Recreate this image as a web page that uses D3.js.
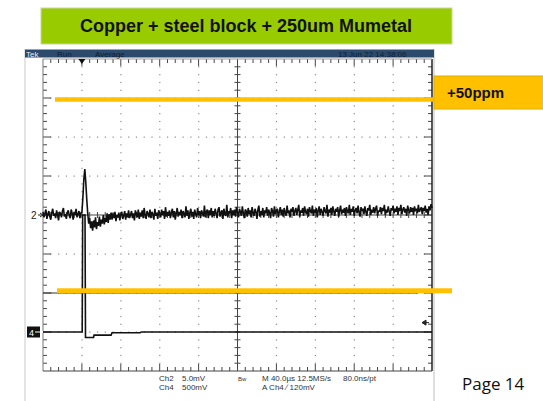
<!DOCTYPE html>
<html><head><meta charset="utf-8">
<script src="https://cdn.jsdelivr.net/npm/d3@7"></script>
<style>body{margin:0;background:#fff}svg{display:block}</style>
</head><body>
<svg id="c" width="543" height="401"></svg>
<script>
// ---------- data ----------
const titleText = "Copper + steel block + 250um Mumetal";
const headerLabels = ["Tek", "Run", "Average", "13 Jun 22 14:38:06"];
const annotationLabel = "+50ppm";
const pageLabel = "Page 14";
const readoutRow1 = ["Ch2", "5.0mV", "Bw", "M 40.0\u00b5s 12.5MS/s", "80.0ns/pt"];
const readoutRow2 = ["Ch4", "500mV", "", "A  Ch4  \u2215  120mV", ""];
// time axis: 40 us/div, trigger 1 div from left
const timeDomain = [-40, 360];
const ch2VoltsPerDiv = 5;     // mV/div
const ch4VoltsPerDiv = 500;   // mV/div
const ch2OffsetDiv = 0;
const ch4OffsetDiv = -3;
const ch4TriggerLevel = 120;  // mV
// annotation lines (divisions)
const upperRefDiv = 2.96;
const lowerRefDiv = -1.94;
const cursorDiv = -2.0;
// Ch2 (mV) samples every 1 us from -40 us
const ch2Pre = [
0.4,-0.3,0.2,0.7,-0.5,0.1,0.5,-0.2,-0.6,0.3,
0.8,-0.1,0.2,-0.4,0.6,0.0,-0.7,0.4,0.2,-0.3,
0.5,0.9,-0.2,0.1,-0.5,0.3,0.6,-0.1,-0.4,0.7,
0.2,-0.6,0.4,0.0,0.8,-0.3,0.1,0.5,-0.4,0.3];
// Ch2 event [t us, mV]
const ch2Event = [[0,0.3],[1,2.2],[2,4.6],[3,5.9],[4,4.2],[5,2.0],[6,0.2],[7,-1.1],[8,-0.4],[9,-1.7],[10,-0.8],[11,-2.0],[12,-0.7],[13,-1.6],[14,-0.3],[15,-1.8],[16,-0.9],[17,-1.4],[18,-0.2],[19,-1.5],[20,-0.6],[21,-1.1],[22,0.0],[23,-1.2],[24,-0.4],[25,-0.9],[26,0.2],[27,-1.0],[28,0.1],[29,-0.6],[30,0.3]];
// Ch2 (mV) samples every 1 us from 31 us
const ch2Post = [
-0.6,0.2,-0.4,0.4,-0.8,0.0,-0.3,0.3,-0.7,0.1,
0.4,-0.5,-0.1,0.5,-0.6,0.2,-0.3,0.6,-0.4,0.0,
0.5,-0.4,0.2,-0.7,0.6,0.1,-0.3,0.7,-0.5,0.3,
-0.2,0.6,-0.4,0.9,0.0,-0.5,0.5,0.2,-0.3,0.7,
-0.4,0.4,0.1,-0.6,0.8,-0.1,0.3,-0.5,0.6,0.2,
-0.3,0.7,0.0,0.5,-0.5,1.0,-0.2,0.4,-0.1,0.6,
-0.4,0.3,0.8,-0.3,0.5,-0.6,0.2,0.9,-0.2,0.4,
0.0,0.7,-0.4,0.5,0.2,-0.3,1.1,-0.1,0.6,-0.5,
0.3,0.8,-0.2,0.4,-0.5,0.7,0.1,-0.3,0.9,0.0,
0.5,-0.4,0.6,0.2,-0.2,1.2,-0.3,0.4,0.7,-0.4,
0.6,0.0,0.9,-0.3,0.5,-0.1,0.8,0.2,-0.4,0.7,
1.0,-0.2,0.3,0.6,-0.5,0.8,0.1,-0.1,1.3,-0.3,
0.5,0.2,0.9,-0.4,0.6,0.0,0.7,-0.2,1.0,0.3,
-0.3,0.8,0.4,-0.1,1.1,0.2,-0.4,0.7,0.5,-0.2,
0.9,0.1,0.6,-0.3,1.0,0.3,-0.1,0.8,0.4,-0.5,
0.7,1.2,-0.2,0.5,0.0,0.9,-0.3,0.6,0.2,1.0,
-0.1,0.7,0.3,-0.4,0.9,0.5,-0.2,1.1,0.1,0.6,
0.8,-0.3,0.4,1.0,0.0,0.7,-0.2,0.9,0.3,-0.1,
1.2,0.2,0.6,-0.3,0.8,0.4,1.0,-0.1,0.5,0.9,
0.0,0.7,1.3,-0.2,0.6,0.3,0.9,-0.1,1.1,0.4,
0.1,0.8,-0.2,1.0,0.5,0.2,1.2,-0.1,0.7,0.3,
0.9,-0.3,0.6,1.1,0.0,0.8,0.4,-0.1,1.0,0.5,
0.2,1.3,-0.2,0.7,0.3,0.9,0.0,1.1,0.5,-0.1,
0.8,0.4,1.0,-0.2,0.6,1.2,0.1,0.7,0.3,0.9,
-0.1,1.0,0.5,0.2,1.3,0.0,0.8,0.4,1.1,-0.1,
0.6,0.9,0.2,1.2,0.3,-0.2,1.0,0.5,0.8,0.1,
1.1,0.4,-0.1,0.9,0.6,1.3,0.0,0.7,0.3,1.0,
0.2,0.8,1.2,-0.1,0.6,0.4,1.0,0.1,0.9,0.5,
1.3,0.0,0.7,0.3,1.1,0.5,-0.1,0.9,0.6,1.2,
0.2,0.8,0.4,1.1,0.0,0.9,0.5,1.3,0.1,0.7,
1.0,0.3,0.8,-0.1,1.2,0.6,0.2,1.0,0.4,0.9,
0.0,1.1,0.5,0.8,0.2,1.3,0.4,0.7,1.0,0.1,
0.9,0.5,1.2,0.3,0.8,0.0,1.1,0.6,1.4,0.9];
// Ch4 [t us, mV]
const ch4Points = [[-40,0],[0.3,0],[0.8,1500],[3.2,1500],[3.7,-70],[12,-70],[12.5,-40],[30,-40],[31,-10],[60,-10],[61,0],[360,0]];

// ---------- layout ----------
const svg = d3.select("#c");
const X0 = 43, X1 = 432, Y0 = 59, Y1 = 371;
const x = d3.scaleLinear().domain(timeDomain).range([X0, X1]);
const y = d3.scaleLinear().domain([-4, 4]).range([Y1, Y0]);
const divX = d3.scaleLinear().domain([0, 10]).range([X0, X1]);

// title
svg.append("rect").attr("x", 41).attr("y", 8).attr("width", 411).attr("height", 36)
  .attr("fill", "#99cc00").attr("stroke", "#c8d8a0").attr("stroke-width", 1);
svg.append("text").attr("x", 246).attr("y", 32).attr("text-anchor", "middle")
  .attr("font-family", "Liberation Sans, Arial, sans-serif").attr("font-weight", "bold")
  .attr("font-size", 18).attr("fill", "#111").text(titleText);

// screen edges
svg.append("line").attr("x1", 25).attr("x2", 25).attr("y1", 49).attr("y2", 401).attr("stroke", "#c8c8c8");
svg.append("line").attr("x1", 434).attr("x2", 434).attr("y1", 49).attr("y2", 401).attr("stroke", "#c0c0c0");

// header bar
svg.append("rect").attr("x", 25).attr("y", 49.5).attr("width", 409).attr("height", 8).attr("fill", "#2b4a6c");
const hdrX = [26, 57, 95, 338];
headerLabels.forEach((t, i) => {
  svg.append("text").attr("x", hdrX[i]).attr("y", 56.5)
    .attr("font-family", "Liberation Sans, Arial, sans-serif").attr("font-size", 8)
    .attr("fill", i === 0 ? "#e8eef5" : "#0f2038").text(t);
});

// graticule
const g = svg.append("g");
const gridCol = "#8a8a8a";
for (let i = 1; i < 10; i++) {
  if (i === 5) continue;
  for (let k = 1; k < 40; k++) {
    if (k % 5 === 0) continue;
    g.append("rect").attr("x", divX(i) - 0.5).attr("y", y(-4 + k * 0.2) - 0.5).attr("width", 1.2).attr("height", 1.2).attr("fill", gridCol);
  }
}
for (let j = 1; j < 8; j++) {
  if (j === 4) continue;
  for (let k = 1; k < 50; k++) {
    g.append("rect").attr("x", divX(k * 0.2) - 0.5).attr("y", y(-4 + j) - 0.5).attr("width", 1.2).attr("height", 1.2).attr("fill", gridCol);
  }
}
g.append("line").attr("x1", X0).attr("x2", X1).attr("y1", y(0)).attr("y2", y(0)).attr("stroke", "#444").attr("stroke-width", 1);
g.append("line").attr("x1", divX(5)).attr("x2", divX(5)).attr("y1", Y0).attr("y2", Y1).attr("stroke", "#444").attr("stroke-width", 1);
for (let k = 1; k < 50; k++) {
  const xx = divX(k * 0.2);
  g.append("line").attr("x1", xx).attr("x2", xx).attr("y1", y(0) - 3).attr("y2", y(0) + 3).attr("stroke", "#444");
  const big = k % 5 === 0;
  g.append("line").attr("x1", xx).attr("x2", xx).attr("y1", Y0).attr("y2", Y0 + (big ? 7 : 4)).attr("stroke", "#444");
  g.append("line").attr("x1", xx).attr("x2", xx).attr("y1", Y1).attr("y2", Y1 - (big ? 7 : 4)).attr("stroke", "#444");
}
for (let k = 1; k < 40; k++) {
  const yy = y(-4 + k * 0.2);
  g.append("line").attr("x1", divX(5) - 3).attr("x2", divX(5) + 3).attr("y1", yy).attr("y2", yy).attr("stroke", "#444");
  const big = k % 5 === 0;
  g.append("line").attr("x1", X0).attr("x2", X0 + (big ? 8 : 4)).attr("y1", yy).attr("y2", yy).attr("stroke", "#444");
  g.append("line").attr("x1", X1).attr("x2", X1 - (big ? 8 : 4)).attr("y1", yy).attr("y2", yy).attr("stroke", "#444");
}
g.append("line").attr("x1", X0).attr("x2", X0).attr("y1", Y0).attr("y2", Y1).attr("stroke", "#777");
g.append("line").attr("x1", X1).attr("x2", X1).attr("y1", Y0).attr("y2", Y1).attr("stroke", "#222").attr("stroke-width", 1.5);
g.append("line").attr("x1", X0).attr("x2", X1).attr("y1", Y1).attr("y2", Y1).attr("stroke", "#444");
g.append("line").attr("x1", X0).attr("x2", X1).attr("y1", Y0).attr("y2", Y0).attr("stroke", "#999");

// cursor line
svg.append("line").attr("x1", X0).attr("x2", 418).attr("y1", y(cursorDiv)).attr("y2", y(cursorDiv)).attr("stroke", "#333").attr("stroke-width", 1);

// traces
const ch2Data = [];
ch2Pre.forEach((v, i) => ch2Data.push([-40 + i, v]));
ch2Event.forEach(p => ch2Data.push(p));
ch2Post.forEach((v, i) => ch2Data.push([31 + i, v]));
const line2 = d3.line().x(d => x(d[0])).y(d => y(ch2OffsetDiv + d[1] / ch2VoltsPerDiv));
const line4 = d3.line().x(d => x(d[0])).y(d => y(ch4OffsetDiv + d[1] / ch4VoltsPerDiv));
svg.append("path").attr("d", line4(ch4Points)).attr("fill", "none").attr("stroke", "#111").attr("stroke-width", 1.6);
svg.append("path").attr("d", line2(ch2Data)).attr("fill", "none").attr("stroke", "#111").attr("stroke-width", 1.6).attr("stroke-linejoin", "bevel");

// trigger marker (time 0)
svg.append("path").attr("d", `M${x(0) - 3.5},${Y0} L${x(0) + 3.5},${Y0} L${x(0)},${Y0 + 5} Z`).attr("fill", "#111");
// trigger level arrow
const ty = y(ch4OffsetDiv + ch4TriggerLevel / ch4VoltsPerDiv);
svg.append("path").attr("d", `M${X1 - 10},${ty} L${X1 - 6},${ty - 2.5} L${X1 - 6},${ty + 2.5} Z M${X1 - 7},${ty} L${X1 - 3},${ty}`)
  .attr("fill", "#222").attr("stroke", "#222").attr("stroke-width", 1);

// channel markers
const m2 = y(ch2OffsetDiv);
svg.append("text").attr("x", 31).attr("y", m2 + 3.5).attr("font-family", "Liberation Sans, Arial, sans-serif").attr("font-size", 10).attr("fill", "#222").text("2");
svg.append("path").attr("d", `M38,${m2} L43,${m2} M40,${m2 - 2} L43,${m2} L40,${m2 + 2}`).attr("stroke", "#222").attr("fill", "none");
const m4 = y(ch4OffsetDiv);
svg.append("rect").attr("x", 27).attr("y", m4 - 5.5).attr("width", 13).attr("height", 11).attr("fill", "#111");
svg.append("text").attr("x", 29).attr("y", m4 + 3.5).attr("font-family", "Liberation Sans, Arial, sans-serif").attr("font-size", 9).attr("fill", "#fff").text("4");
svg.append("path").attr("d", `M35,${m4} L43,${m4} M40,${m4 - 2} L43,${m4} L40,${m4 + 2}`).attr("stroke", "#fff").attr("fill", "none");

// annotation lines
const orange = "#ffc000";
svg.append("line").attr("x1", 55).attr("x2", 435).attr("y1", y(upperRefDiv)).attr("y2", y(upperRefDiv)).attr("stroke", orange).attr("stroke-width", 4.5);
svg.append("line").attr("x1", 57).attr("x2", 452).attr("y1", y(lowerRefDiv)).attr("y2", y(lowerRefDiv)).attr("stroke", orange).attr("stroke-width", 5);
svg.append("rect").attr("x", 434).attr("y", 76).attr("width", 112).attr("height", 33).attr("fill", orange).attr("stroke", "#e0b000");
svg.append("text").attr("x", 447).attr("y", 98).attr("font-family", "Liberation Sans, Arial, sans-serif").attr("font-weight", "bold")
  .attr("font-size", 15).attr("fill", "#111").text(annotationLabel);

// readouts
const roX = [159, 182, 238, 262, 343];
const roFont = "Liberation Sans, Arial, sans-serif";
readoutRow1.forEach((t, i) => {
  svg.append("text").attr("x", roX[i]).attr("y", 381).attr("font-family", roFont).attr("font-size", i === 2 ? 6 : 8).attr("fill", "#333").text(t);
});
readoutRow2.forEach((t, i) => {
  if (!t) return;
  svg.append("text").attr("x", roX[i]).attr("y", 390).attr("font-family", roFont).attr("font-size", 8).attr("fill", "#333").text(t);
});

// page label
svg.append("text").attr("x", 462).attr("y", 390).attr("font-family", "Open Sans, Liberation Sans, sans-serif")
  .attr("font-size", 17).attr("fill", "#111").text(pageLabel);
</script>
</body></html>
